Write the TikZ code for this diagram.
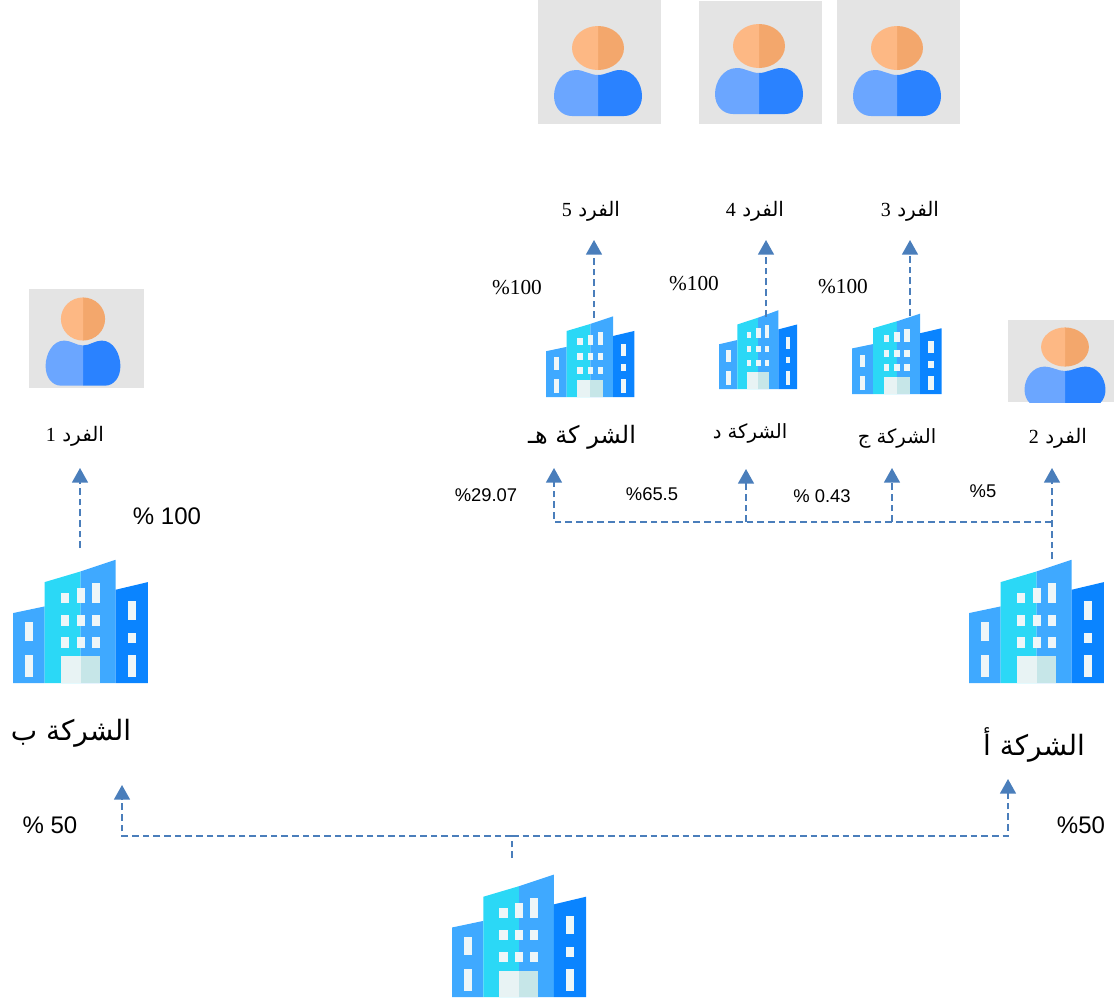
\documentclass[tikz,border=0pt]{standalone}
\usepackage{fontspec}
\setmainfont{Liberation Serif}
\setsansfont{Liberation Sans}
\newfontfamily\arabicfont[Script=Arabic]{DejaVu Sans}
\TeXXeTstate=1
\usepackage{xcolor}
\usepackage{tikz}
\usetikzlibrary{arrows.meta}
\definecolor{sharecol}{HTML}{4A7EBB}
\definecolor{bldgcyan}{HTML}{2BD8F6}
\definecolor{bldgmid}{HTML}{3FA9FF}
\definecolor{bldgdark}{HTML}{0A84FF}
\definecolor{bldgwin}{HTML}{EEF6F8}
\definecolor{doorleft}{HTML}{E8F3F4}
\definecolor{doorright}{HTML}{C6E6E8}
\definecolor{personbg}{HTML}{E4E4E4}
\definecolor{headleft}{HTML}{FDB884}
\definecolor{headright}{HTML}{F3A76C}
\definecolor{bodyleft}{HTML}{6BA6FF}
\definecolor{bodyright}{HTML}{2A82FF}
\newcommand{\artext}[1]{{\arabicfont\beginR #1\endR}}
\tikzset{
    shareline/.style={sharecol, line width=1.25pt, dash pattern=on 5pt off 3pt},
    sharearrow/.style={shareline, -{Triangle[width=12pt,length=11pt]}},
    nameperson/.style={inner sep=0pt, font=\fontsize{15}{18}\arabicfont},
    namefirm/.style={inner sep=0pt, font=\fontsize{14.7}{18}\arabicfont},
    namemid/.style={inner sep=0pt, font=\fontsize{18}{22}\arabicfont},
    namebig/.style={inner sep=0pt, font=\fontsize{21}{24}\arabicfont},
    pctserif/.style={inner sep=0pt, font=\fontsize{16}{18}\rmfamily},
    pctsans/.style={inner sep=0pt, font=\fontsize{13.8}{16}\sffamily},
    pctbig/.style={inner sep=0pt, font=\fontsize{18}{20}\sffamily},
    building/.pic={
        \fill [bldgmid] (0,0)--(0,-210)--(95,-230)--(95,0)--cycle;
        \fill [bldgcyan] (95,0)--(95,-303)--(203,-335)--(203,0)--cycle;
        \fill [bldgmid] (203,0)--(203,-335)--(308,-370)--(308,0)--cycle;
        \fill [bldgdark] (308,0)--(308,-280)--(405,-303)--(405,0)--cycle;
        \fill [doorleft] (143,0) rectangle (203,-80);
        \fill [doorright] (203,0) rectangle (261,-80);
        \foreach \winl/\winr in {143/168,191/215,237/261} {
            \fill [bldgwin] (\winl,-203) rectangle (\winr,-172);
            \fill [bldgwin] (\winl,-137) rectangle (\winr,-106);
        }
        \fill [bldgwin] (143,-270) rectangle (168,-240);
        \fill [bldgwin] (191,-285) rectangle (215,-240);
        \fill [bldgwin] (237,-300) rectangle (261,-240);
        \fill [bldgwin] (36,-182) rectangle (60,-126);
        \fill [bldgwin] (36,-84) rectangle (60,-17);
        \fill [bldgwin] (345,-245) rectangle (369,-189);
        \fill [bldgwin] (345,-150) rectangle (369,-120);
        \fill [bldgwin] (345,-84) rectangle (369,-17);
    },
    person/.pic={
        \foreach \side/\bodycol/\headcol in {1/bodyright/headright,-1/bodyleft/headleft} {
            \begin{scope}[xscale=\side]
                \fill [\bodycol] (0,27) .. controls (8,27) and (14,22) .. (22,22)
                    .. controls (36,22) and (44,36) .. (44,48)
                    .. controls (44,60) and (36,68) .. (26,68) -- (0,68) -- cycle;
                \fill [\headcol] (0,-22) arc [start angle=-90, end angle=90, x radius=26, y radius=22] -- cycle;
            \end{scope}
        }
    }
}
\begin{document}
\begin{tikzpicture}[x=0.75pt,y=-0.75pt]
    \useasboundingbox (0,0) rectangle (1114,1001);
    \fill [personbg] (538,0) rectangle (661,124);
    \fill [personbg] (699,1) rectangle (822,124);
    \fill [personbg] (837,0) rectangle (960,124);
    \pic (personE) at (598,48) {person};
    \pic (personD) at (759,46) {person};
    \pic (personC) at (897,48) {person};
    \begin{scope}
        \clip (1008,320) rectangle (1114,402);
        \fill [personbg] (1008,320) rectangle (1114,402);
        \pic [xscale=.92, yscale=.89] (personA) at (1065,347) {person};
    \end{scope}
    \fill [personbg] (29,289) rectangle (144,388);
    \pic [xscale=.85, yscale=.98] (personB) at (83,319) {person};

    \pic [scale=.333] (bldgA) at (969,683) {building};
    \pic [scale=.333] (bldgB) at (13,683) {building};
    \pic [scale=.331] (bldgTop) at (452,997) {building};
    \pic [scale=.218] (bldgE) at (546,397) {building};
    \pic [xscale=.193, yscale=.213] (bldgD) at (719,389) {building};
    \pic [xscale=.221, yscale=.217] (bldgC) at (852,394) {building};

    \node [nameperson] (nameF) at (591,211) {\artext{الفرد {\rmfamily 5}}};
    \node [nameperson] (nameE) at (755,211) {\artext{الفرد {\rmfamily 4}}};
    \node [nameperson] (nameD) at (910,211) {\artext{الفرد {\rmfamily 3}}};
    \node [nameperson] (nameC) at (1058,438) {\artext{الفرد {\rmfamily 2}}};
    \node [nameperson] (nameB) at (75,436) {\artext{الفرد {\rmfamily 1}}};
    \node [namemid] (firmE) at (582,437) {\artext{الشر كة هـ}};
    \node [namefirm] (firmD) at (750,433) {\artext{الشركة د}};
    \node [namefirm] (firmC) at (897,438) {\artext{الشركة ج}};
    \node [namebig] (firmA) at (1034,745) {\artext{الشركة أ}};
    \node [namebig] (firmB) at (71,733) {\artext{الشركة ب}};

    \node [pctserif] (pctE) at (517,288) {\%100};
    \node [pctserif] (pctD) at (694,284) {\%100};
    \node [pctserif] (pctC) at (843,287) {\%100};
    \node [pctsans] (pctEa) at (486,495) {\%29.07};
    \node [pctsans] (pctDa) at (652,494) {\%65.5};
    \node [pctsans] (pctCa) at (822,496) {\% 0.43};
    \node [pctsans] (pctBa) at (983,491) {\%5};
    \node [pctbig] (pctOne) at (167,516) {\% 100};
    \node [pctbig] (pctLeft) at (50,825) {\% 50};
    \node [pctbig] (pctRight) at (1081,825) {\%50};

    \coordinate (stemE) at (594,318);
    \coordinate (stemD) at (766,317);
    \coordinate (stemC) at (910,316);
    \coordinate (tipE) at (594,240);
    \coordinate (tipD) at (766,240);
    \coordinate (tipC) at (910,240);
    \draw [sharearrow] (stemE) -- (tipE);
    \draw [sharearrow] (stemD) -- (tipD);
    \draw [sharearrow] (stemC) -- (tipC);

    \coordinate (stemA) at (1052,559);
    \coordinate (busA) at (1052,522);
    \coordinate (busD) at (746,522);
    \coordinate (busC) at (892,522);
    \coordinate (upE) at (554,468);
    \coordinate (upD) at (746,469);
    \coordinate (upC) at (892,468);
    \coordinate (upA) at (1052,468);
    \draw [sharearrow] (stemA) -- (upA);
    \draw [sharearrow] (busA) -| (upE);
    \draw [sharearrow] (busD) -- (upD);
    \draw [sharearrow] (busC) -- (upC);

    \coordinate (stemB) at (80,548);
    \coordinate (upB) at (80,468);
    \draw [sharearrow] (stemB) -- (upB);

    \coordinate (stemTop) at (512,858);
    \coordinate (busTop) at (512,836);
    \coordinate (upLeft) at (122,785);
    \coordinate (upRight) at (1008,779);
    \draw [shareline] (stemTop) -- (busTop);
    \draw [sharearrow] (busTop) -| (upLeft);
    \draw [sharearrow] (busTop) -| (upRight);
\end{tikzpicture}
\end{document}
